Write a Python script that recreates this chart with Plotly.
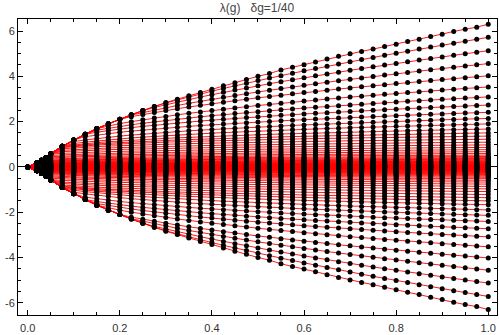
import numpy as np
import plotly.graph_objects as go

# g grid
g_values = [0, 0.02, 0.03, 0.04, 0.05,
            0.075, 0.1, 0.125, 0.15, 0.175, 0.2, 0.225, 0.25, 0.275, 0.3,
            0.325, 0.35, 0.375, 0.4, 0.425, 0.45, 0.475, 0.5, 0.525, 0.55,
            0.575, 0.6, 0.625, 0.65, 0.675, 0.7, 0.725, 0.75, 0.775, 0.8,
            0.825, 0.85, 0.875, 0.9, 0.925, 0.95, 0.975, 1.0]

# largest eigenvalue at each g (upper envelope, read)
top_envelope = [0, 0.17, 0.29, 0.41, 0.58,
                 0.91, 1.19, 1.44, 1.69, 1.91, 2.10, 2.30, 2.49, 2.67, 2.84,
                 2.99, 3.14, 3.29, 3.43, 3.58, 3.72, 3.86, 4.00, 4.12, 4.28,
                 4.40, 4.51, 4.63, 4.76, 4.88, 5.00, 5.10, 5.20, 5.32, 5.42,
                 5.54, 5.64, 5.76, 5.86, 5.98, 6.08, 6.17, 6.30]

# the other branches: value read at g = 1 and at g = 0.5
lam_at_g1 = [5.72, 5.13, 4.56, 4.02, 3.53, 3.09, 2.73, 2.41, 2.14, 1.90, 1.67, 1.50,
             1.36, 1.22, 1.09, 0.97, 0.86, 0.76, 0.67, 0.59, 0.52, 0.46,
             0.41, 0.37, 0.335, 0.30, 0.27, 0.245, 0.22, 0.20, 0.18,
             0.16, 0.14, 0.125, 0.11, 0.095, 0.08, 0.067, 0.055, 0.044,
             0.034, 0.025, 0.017, 0.01, 0.004]
lam_at_g05 = [3.81, 3.58, 3.31, 3.05, 2.71, 2.44, 2.21, 1.98, 1.76, 1.58, 1.42, 1.30,
              1.20, 1.09, 0.98, 0.88, 0.78, 0.69, 0.61, 0.54, 0.475, 0.42,
              0.375, 0.34, 0.308, 0.276, 0.248, 0.225, 0.202, 0.184, 0.166,
              0.148, 0.129, 0.115, 0.101, 0.087, 0.074, 0.062, 0.051, 0.041,
              0.031, 0.023, 0.016, 0.009, 0.0037]

x_ticks = [0.0, 0.2, 0.4, 0.6, 0.8, 1.0]
x_tick_labels = ["0.0", "0.2", "0.4", "0.6", "0.8", "1.0"]
y_ticks = [-6, -4, -2, 0, 2, 4, 6]
y_tick_labels = ["-6", "-4", "-2", "0", "2", "4", "6"]
title_text = "λ(g)\u00a0\u00a0\u00a0δg=1/40"

g = np.array(g_values, dtype=float)
env = np.array(top_envelope, dtype=float)
branches = [env]
for v1, v05 in zip(lam_at_g1, lam_at_g05):
    q = np.log(v05 / v1) / np.log(0.5)
    branches.append(np.minimum(env, v1 * g ** q))
branches = branches + [-b for b in branches]

lx, ly, mx, my = [], [], [], []
for b in branches:
    lx += list(g) + [None]
    ly += list(b) + [None]
    mx += list(g)
    my += list(b)

fig = go.Figure()
fig.add_trace(go.Scatter(x=lx, y=ly, mode="lines",
                         line=dict(color="rgb(255,0,0)", width=0.9),
                         hoverinfo="skip", showlegend=False))
fig.add_trace(go.Scatter(x=mx, y=my, mode="markers",
                         marker=dict(color="black", size=5, line=dict(width=0)),
                         hoverinfo="skip", showlegend=False))

tick_font = dict(family="Liberation Sans, Arial, sans-serif", size=11, color="#333333")
fig.update_layout(
    width=499, height=335,
    margin=dict(l=18, r=1, t=19, b=18),
    plot_bgcolor="white", paper_bgcolor="white",
    showlegend=False,
    title=dict(text=title_text, x=0.515, xanchor="center", y=1 - 8 / 335,
               yanchor="middle", yref="container",
               font=dict(family="Liberation Sans, Arial, sans-serif", size=12, color="#444444")),
    xaxis=dict(range=[-0.021, 1.019], tickvals=x_ticks, ticktext=x_tick_labels,
               ticks="inside", ticklen=5, tickcolor="black", tickwidth=1,
               showline=True, linecolor="black", linewidth=1, mirror="ticks",
               showgrid=False, zeroline=False, tickfont=tick_font,
               ticklabelstandoff=3,
               minor=dict(dtick=0.05, tick0=0, ticks="inside", ticklen=3,
                          tickcolor="black", showgrid=False)),
    yaxis=dict(range=[-6.54, 6.53], tickvals=y_ticks, ticktext=y_tick_labels,
               ticks="inside", ticklen=5, tickcolor="black", tickwidth=1,
               showline=True, linecolor="black", linewidth=1, mirror="ticks",
               showgrid=False, zeroline=True, zerolinecolor="black", zerolinewidth=1,
               tickfont=tick_font,
               minor=dict(dtick=0.5, tick0=0, ticks="inside", ticklen=3,
                          tickcolor="black", showgrid=False)),
)
fig.write_html("out.html", config={"displayModeBar": False},
               post_script="document.body.style.margin='0px';document.body.style.overflow='hidden';")
